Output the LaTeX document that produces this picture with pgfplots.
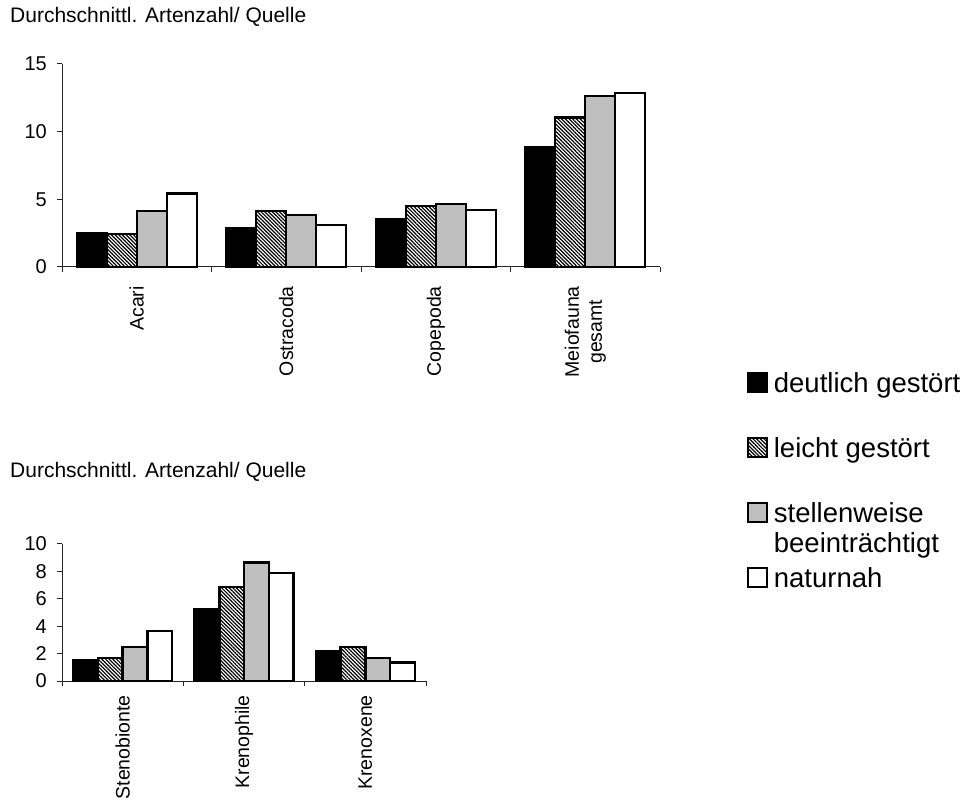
\documentclass[border=0pt]{standalone}
\usepackage{fontspec}
\setmainfont{Liberation Sans}
\usepackage{pgfplots}
\pgfplotsset{compat=1.18}
\usetikzlibrary{patterns.meta}

\pgfplotsset{
  barchart/.style={
    scale only axis,
    axis x line=bottom, axis y line=left,
    axis line style={-, line width=1bp, black!85},
    ymin=0,
    ybar=0pt,
    tick align=outside,
    major tick length=5bp, minor tick length=5bp,
    every tick/.style={line width=1bp, black!85},
    major x tick style={draw=none},
    /pgf/number format/assume math mode=true,
    ticklabel style={font=\fontsize{20bp}{24bp}\selectfont},
    yticklabel style={inner sep=0pt, anchor=east, xshift=-10bp},
    xticklabel style={rotate=90, anchor=east, align=center, inner sep=0pt, font=\fontsize{19.5bp}{23bp}\selectfont},
    every axis plot/.append style={line width=2.4bp, draw=black},
    clip=false,
  },
  s1/.style={fill=black},
  s2/.style={pattern={Lines[angle=-45,distance=2.6bp,line width=1.2bp]}, pattern color=black},
  s3/.style={fill=black!25},
  s4/.style={fill=white},
}

\begin{document}
\begin{tikzpicture}
\useasboundingbox (0,0) rectangle (971bp,800bp);

\node[anchor=base west, inner sep=0pt, font=\fontsize{21bp}{25bp}\selectfont] at (10bp,777bp) {Durchschnittl. Artenzahl/ Quelle};
\node[anchor=base west, inner sep=0pt, font=\fontsize{21bp}{25bp}\selectfont] at (10bp,322bp) {Durchschnittl. Artenzahl/ Quelle};

% top chart
\begin{axis}[barchart,
  at={(62bp,533bp)}, anchor=south west,
  width=598bp, height=203bp,
  xmin=-0.5, xmax=3.5, ymax=15,
  ytick={0,5,10,15},
  xtick={0,1,2,3},
  xticklabels={Acari,Ostracoda,Copepoda,{Meiofauna\\gesamt}},
  xticklabel style={inner xsep=14bp},
  minor xtick={-0.5,0.5,1.5,2.5,3.5},
  bar width=30bp,
]
\addplot[s1] coordinates {(0,2.53) (1,2.85) (2,3.52) (3,8.88)};
\addplot[s2] coordinates {(0,2.43) (1,4.13) (2,4.52) (3,11.05)};
\addplot[s3] coordinates {(0,4.15) (1,3.84) (2,4.65) (3,12.64)};
\addplot[s4] coordinates {(0,5.44) (1,3.12) (2,4.22) (3,12.84)};
\end{axis}

% bottom chart
\begin{axis}[barchart,
  at={(62bp,119bp)}, anchor=south west,
  width=364bp, height=137bp,
  xmin=-0.5, xmax=2.5, ymax=10,
  ytick={0,2,4,6,8,10},
  xtick={0,1,2},
  xticklabels={Stenobionte,Krenophile,Krenoxene},
  xticklabel style={inner xsep=9bp},
  minor xtick={-0.5,0.5,1.5,2.5},
  bar width=24.7bp,
  legend cell align=left,
  legend style={at={(1.881,2.255)}, anchor=north west, draw=none, fill=none,
    inner sep=0pt, outer sep=0pt, row sep=38bp,
    font=\fontsize{27.5bp}{30bp}\selectfont,
    nodes={inner sep=0pt, text height=20bp, text depth=7bp}},
  legend image code/.code={\draw[#1,line width=2bp] (0bp,-6.5bp) rectangle (19bp,12.5bp); \path (25bp,0bp);},
]
\addplot[s1] coordinates {(0,1.55) (1,5.23) (2,2.19)};
\addlegendentry{deutlich gestört}
\addplot[s2] coordinates {(0,1.70) (1,6.86) (2,2.48)};
\addlegendentry{leicht gestört}
\addplot[s3] coordinates {(0,2.46) (1,8.66) (2,1.66)};
\addlegendentry{\smash{\begin{tabular}[t]{@{}l@{}}stellenweise\\beeinträchtigt\end{tabular}}}
\addplot[s4] coordinates {(0,3.65) (1,7.88) (2,1.36)};
\addlegendentry{naturnah}
\end{axis}
\end{tikzpicture}
\end{document}
